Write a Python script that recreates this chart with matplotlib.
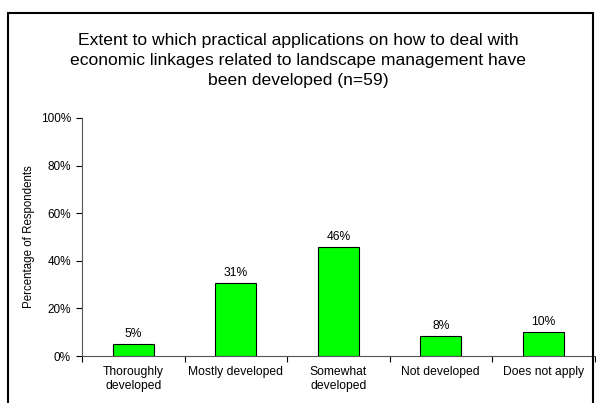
import matplotlib.pyplot as plt
from matplotlib.patches import Rectangle
from matplotlib.ticker import PercentFormatter

plt.rcParams['font.family'] = ['Liberation Sans', 'DejaVu Sans']

categories = ['Thoroughly\ndeveloped', 'Mostly developed', 'Somewhat\ndeveloped',
              'Not developed', 'Does not apply']
values = [5.1, 30.5, 45.8, 8.5, 10.2]
labels = ['5%', '31%', '46%', '8%', '10%']
title = ('Extent to which practical applications on how to deal with\n'
         'economic linkages related to landscape management have\n'
         'been developed (n=59)')

fig = plt.figure(figsize=(5.96, 4.03), dpi=100)
ax = fig.add_axes([0.1376, 0.1166, 0.86, 0.5906])

x = range(len(categories))
bars = ax.bar(x, values, width=0.4, color='#00ff00', edgecolor='black', linewidth=0.8)
for b, lab in zip(bars, labels):
    ax.annotate(lab, (b.get_x() + b.get_width() / 2, b.get_height()),
                xytext=(0, 3), textcoords='offset points',
                ha='center', va='bottom', fontsize=8.7)

ax.set_xlim(-0.5, len(categories) - 0.5)
ax.set_ylim(0, 100)
ax.set_yticks(range(0, 101, 20))
ax.yaxis.set_major_formatter(PercentFormatter(decimals=0))
ax.set_xticks([i - 0.5 for i in range(len(categories) + 1)])
ax.set_xticklabels([])
ax.set_xticks(list(x), minor=True)
ax.set_xticklabels(categories, minor=True, fontsize=8.7, linespacing=1.3)
ax.tick_params(axis='x', which='minor', length=0, pad=7)
ax.tick_params(axis='x', which='major', length=4, direction='out')
ax.tick_params(axis='y', length=4, labelsize=8.5, pad=4)

for s in ['top', 'right']:
    ax.spines[s].set_visible(False)
for s in ['left', 'bottom']:
    ax.spines[s].set_color('#555555')

ax.set_ylabel('Percentage of Respondents', fontsize=8.3, labelpad=4)

fig.text(0.5, 0.849, title, ha='center', va='center', fontsize=12.6, linespacing=1.42)

fig.patches.append(Rectangle((8 / 596, -0.05), 585 / 596, 1.05 - 13 / 403,
                             transform=fig.transFigure, fill=False,
                             edgecolor='black', linewidth=1.5))

plt.savefig('out.png', dpi=100)
